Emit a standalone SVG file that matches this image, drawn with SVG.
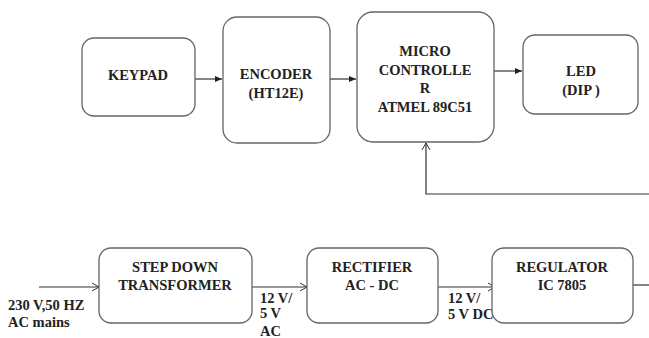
<svg xmlns="http://www.w3.org/2000/svg" width="649" height="338" viewBox="0 0 649 338">
<defs>
<marker id="fill" markerWidth="8" markerHeight="8" refX="7" refY="4" orient="auto" markerUnits="userSpaceOnUse"><path d="M0,1 L7,4 L0,7 Z" fill="#222"/></marker>
<marker id="open" markerWidth="10" markerHeight="10" refX="8" refY="5" orient="auto" markerUnits="userSpaceOnUse"><path d="M1,1 L8,5 L1,9" fill="none" stroke="#333" stroke-width="1"/></marker>
</defs>
<style>
.box{fill:#fff;stroke:#666;stroke-width:1.3}
.c{fill:none;stroke:#333;stroke-width:1.2}
</style>
<rect width="649" height="338" fill="#fff"/>
<g id="connectors">
<line class="c" x1="195" y1="79" x2="222" y2="79" marker-end="url(#fill)"/>
<line class="c" x1="330" y1="79" x2="356" y2="79" marker-end="url(#fill)"/>
<line class="c" x1="494" y1="71" x2="522" y2="71" marker-end="url(#fill)"/>
<polyline class="c" points="649,194 426,194 426,143" marker-end="url(#open)"/>
<line class="c" x1="39" y1="287" x2="99" y2="287" marker-end="url(#open)"/>
<line class="c" x1="252" y1="287" x2="307" y2="287" marker-end="url(#open)"/>
<line class="c" x1="438" y1="287" x2="495" y2="287" marker-end="url(#open)"/>
<line class="c" x1="633" y1="285" x2="649" y2="285"/>
</g>
<g id="keypad"><rect class="box" x="82" y="38" width="113" height="78" rx="12"/><text x="138" y="80" font-family="Liberation Serif, serif" font-weight="bold" font-size="14.5" fill="#222" text-anchor="middle">KEYPAD</text></g>
<g id="encoder"><rect class="box" x="223" y="17" width="107" height="126" rx="14"/><text x="276" y="79" font-family="Liberation Serif, serif" font-weight="bold" font-size="14.5" fill="#222" text-anchor="middle">ENCODER</text><text x="276" y="98" font-family="Liberation Serif, serif" font-weight="bold" font-size="14.5" fill="#222" text-anchor="middle">(HT12E)</text></g>
<g id="micro"><rect class="box" x="357" y="12" width="137" height="130" rx="16"/><text x="425" y="56" font-family="Liberation Serif, serif" font-weight="bold" font-size="14.5" fill="#222" text-anchor="middle">MICRO</text><text x="425" y="75" font-family="Liberation Serif, serif" font-weight="bold" font-size="14.5" fill="#222" text-anchor="middle">CONTROLLE</text><text x="425" y="93" font-family="Liberation Serif, serif" font-weight="bold" font-size="14.5" fill="#222" text-anchor="middle">R</text><text x="425" y="112" font-family="Liberation Serif, serif" font-weight="bold" font-size="14.5" fill="#222" text-anchor="middle">ATMEL 89C51</text></g>
<g id="led"><rect class="box" x="523" y="35" width="115" height="79" rx="12"/><text x="581" y="76" font-family="Liberation Serif, serif" font-weight="bold" font-size="14.5" fill="#222" text-anchor="middle">LED</text><text x="581" y="95" font-family="Liberation Serif, serif" font-weight="bold" font-size="14.5" fill="#222" text-anchor="middle">(DIP )</text></g>
<g id="input"><text x="8" y="310" font-family="Liberation Serif, serif" font-weight="bold" font-size="14.5" fill="#222">230 V,50 HZ</text><text x="8" y="327" font-family="Liberation Serif, serif" font-weight="bold" font-size="14.5" fill="#222">AC mains</text></g>
<g id="stepdown"><rect class="box" x="99" y="248" width="153" height="75" rx="12"/><text x="175" y="272" font-family="Liberation Serif, serif" font-weight="bold" font-size="14.5" fill="#222" text-anchor="middle">STEP DOWN</text><text x="175" y="290" font-family="Liberation Serif, serif" font-weight="bold" font-size="14.5" fill="#222" text-anchor="middle">TRANSFORMER</text></g>
<g id="label1"><text x="260" y="303" font-family="Liberation Serif, serif" font-weight="bold" font-size="14.5" fill="#222">12 V/</text><text x="260" y="318" font-family="Liberation Serif, serif" font-weight="bold" font-size="14.5" fill="#222">5 V</text><text x="260" y="336" font-family="Liberation Serif, serif" font-weight="bold" font-size="14.5" fill="#222">AC</text></g>
<g id="rectifier"><rect class="box" x="307" y="248" width="131" height="75" rx="12"/><text x="372" y="272" font-family="Liberation Serif, serif" font-weight="bold" font-size="14.5" fill="#222" text-anchor="middle">RECTIFIER</text><text x="372" y="290" font-family="Liberation Serif, serif" font-weight="bold" font-size="14.5" fill="#222" text-anchor="middle">AC - DC</text></g>
<g id="label2"><text x="448" y="303" font-family="Liberation Serif, serif" font-weight="bold" font-size="14.5" fill="#222">12 V/</text><text x="448" y="319" font-family="Liberation Serif, serif" font-weight="bold" font-size="14.5" fill="#222">5 V DC</text></g>
<g id="regulator"><rect class="box" x="492" y="248" width="141" height="75" rx="12"/><text x="562" y="272" font-family="Liberation Serif, serif" font-weight="bold" font-size="14.5" fill="#222" text-anchor="middle">REGULATOR</text><text x="562" y="290" font-family="Liberation Serif, serif" font-weight="bold" font-size="14.5" fill="#222" text-anchor="middle">IC 7805</text></g>
</svg>
